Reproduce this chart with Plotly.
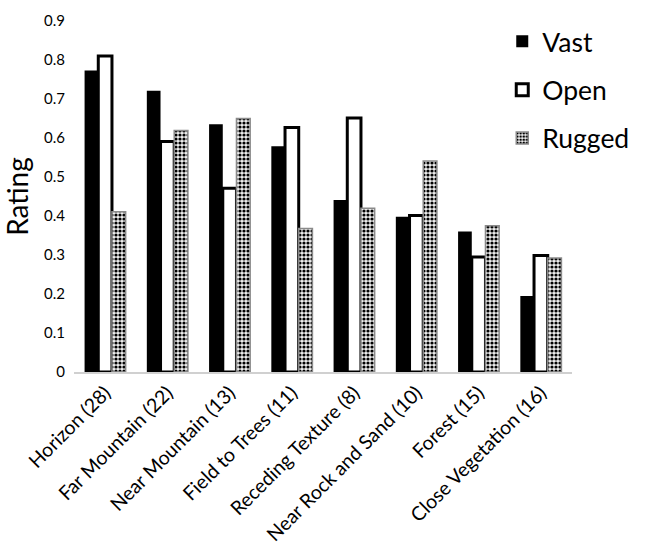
import plotly.graph_objects as go

categories = ["Horizon (28)", "Far Mountain (22)", "Near Mountain (13)", "Field to Trees (11)",
              "Receding Texture (8)", "Near Rock and Sand (10)", "Forest (15)", "Close Vegetation (16)"]
vast = [0.773, 0.721, 0.635, 0.579, 0.441, 0.398, 0.360, 0.195]
open_ = [0.810, 0.591, 0.471, 0.627, 0.651, 0.401, 0.295, 0.299]
rugged = [0.411, 0.619, 0.650, 0.368, 0.420, 0.541, 0.375, 0.292]
y_ticks = [0, 0.1, 0.2, 0.3, 0.4, 0.5, 0.6, 0.7, 0.8, 0.9]

FONT = "Lato, Carlito, Calibri, sans-serif"

fig = go.Figure()
fig.add_trace(go.Bar(
    name="Vast", x=categories, y=vast, legendgroup="a",
    marker=dict(color="black", line=dict(color="black", width=0)),
))
fig.add_trace(go.Bar(
    name="Open", x=categories, y=open_, legendgroup="b",
    marker=dict(color="white", line=dict(color="black", width=3)),
))
fig.add_trace(go.Bar(
    name="Rugged", x=categories, y=rugged, legendgroup="c",
    marker=dict(color="white", line=dict(color="#8a8a8a", width=1.5),
                pattern=dict(shape=".", fgcolor="black", bgcolor="#eeeeee",
                             fgopacity=1, size=4, solidity=0.5)),
))

fig.update_layout(
    width=646, height=549,
    margin=dict(l=74, r=51, t=21, b=177),
    paper_bgcolor="white", plot_bgcolor="white",
    barmode="group", bargap=0.34, bargroupgap=0,
    font=dict(family=FONT, color="black"),
    showlegend=True,
    legend=dict(x=1.125, y=1.01, xanchor="right", yanchor="top",
                font=dict(size=26.5, family=FONT), tracegroupgap=11,
                itemwidth=30, entrywidth=80, bgcolor="rgba(0,0,0,0)"),
    xaxis=dict(tickangle=-45, tickfont=dict(size=19.5), showline=True, automargin=False,
               linecolor="#d0d0d0", linewidth=1.5, ticks="", showgrid=False),
    yaxis=dict(range=[0, 0.9], tickvals=y_ticks, ticktext=[f"{v:g}" for v in y_ticks],
               tickfont=dict(size=15), showgrid=False, zeroline=False,
               showline=False, ticks="", automargin=False, ticklabelstandoff=8,
               title=dict(text="Rating", font=dict(size=28), standoff=8)),
)

fig.write_html("out.html")
